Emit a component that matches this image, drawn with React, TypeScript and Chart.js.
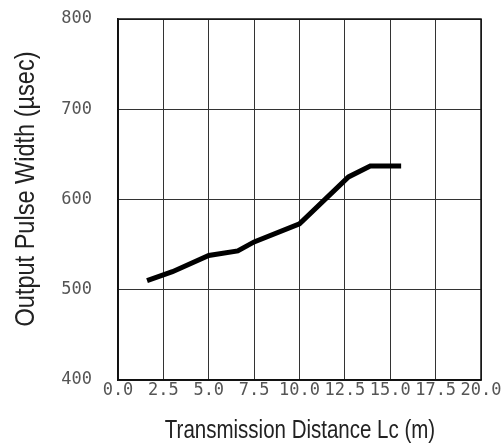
import React, { useEffect, useRef } from "react";
import { Chart, registerables } from "chart.js";

Chart.register(...registerables);

const distances = [1.6, 3.0, 5.0, 6.6, 7.5, 10.0, 12.7, 13.9, 15.6];
const pulseWidths = [510, 520, 538, 543, 553, 573, 625, 637, 637];
const xTickValues = [0, 2.5, 5, 7.5, 10, 12.5, 15, 17.5, 20];
const yTickValues = [400, 500, 600, 700, 800];
const xTitle = "Transmission Distance Lc (m)";
const yTitle = "Output Pulse Width (\u00b5sec)";

export default function App() {
  const ref = useRef<HTMLCanvasElement | null>(null);

  useEffect(() => {
    if (!ref.current) return;
    const tickFont = { family: "'DejaVu Sans Mono', monospace", size: 17 };
    const chart = new Chart(ref.current, {
      type: "line",
      data: {
        datasets: [
          {
            data: distances.map((d, i) => ({ x: d, y: pulseWidths[i] })),
            borderColor: "#000",
            borderWidth: 5,
            pointRadius: 0,
            fill: false,
            tension: 0,
          },
        ],
      },
      options: {
        animation: false,
        responsive: true,
        maintainAspectRatio: false,
        layout: { padding: { top: 19, right: 23, left: 0, bottom: 0 } },
        plugins: { legend: { display: false }, tooltip: { enabled: false } },
        scales: {
          x: {
            type: "linear",
            min: 0,
            max: 20,
            afterBuildTicks: (s: any) => {
              s.ticks = xTickValues.map((v) => ({ value: v }));
            },
            afterFit: (s: any) => {
              s.height = 65;
            },
            ticks: {
              color: "#555",
              font: tickFont,
              padding: 0,
              maxRotation: 0,
              autoSkip: false,
              callback: (v: any) => Number(v).toFixed(1),
            },
            grid: { color: "#333", lineWidth: 1, drawTicks: false },
            border: { color: "#111", width: 1.5 },
          },
          y: {
            type: "linear",
            min: 400,
            max: 800,
            afterBuildTicks: (s: any) => {
              s.ticks = yTickValues.map((v) => ({ value: v }));
            },
            afterFit: (s: any) => {
              s.width = 118;
              s.paddingTop = 0;
              s.paddingBottom = 0;
            },
            ticks: {
              color: "#555",
              font: tickFont,
              padding: 26,
              autoSkip: false,
            },
            grid: { color: "#333", lineWidth: 1, drawTicks: false },
            border: { color: "#111", width: 1.5 },
          },
        },
      },
      plugins: [
        {
          id: "frameAndTitles",
          afterDraw: (c: any) => {
            const { left, right, top, bottom } = c.chartArea;
            const ctx = c.ctx;
            ctx.save();
            ctx.strokeStyle = "#111";
            ctx.lineWidth = 1.5;
            ctx.strokeRect(left, top, right - left, bottom - top);
            ctx.fillStyle = "#222";
            ctx.textAlign = "center";
            ctx.textBaseline = "alphabetic";
            ctx.save();
            ctx.font = "25px 'Liberation Sans', Arial, sans-serif";
            ctx.translate(300, 438);
            ctx.scale(0.82, 1);
            ctx.fillText(xTitle, 0, 0);
            ctx.restore();
            ctx.save();
            ctx.font = "28px 'Liberation Sans', Arial, sans-serif";
            ctx.translate(33.5, 189);
            ctx.rotate(-Math.PI / 2);
            ctx.scale(0.84, 1);
            ctx.fillText(yTitle, 0, 0);
            ctx.restore();
            ctx.restore();
          },
        },
      ],
    });
    return () => chart.destroy();
  }, []);

  return (
    <div style={{ position: "absolute", left: 0, top: 0, width: 504, height: 445, background: "#fff" }}>
      <canvas ref={ref} />
    </div>
  );
}
